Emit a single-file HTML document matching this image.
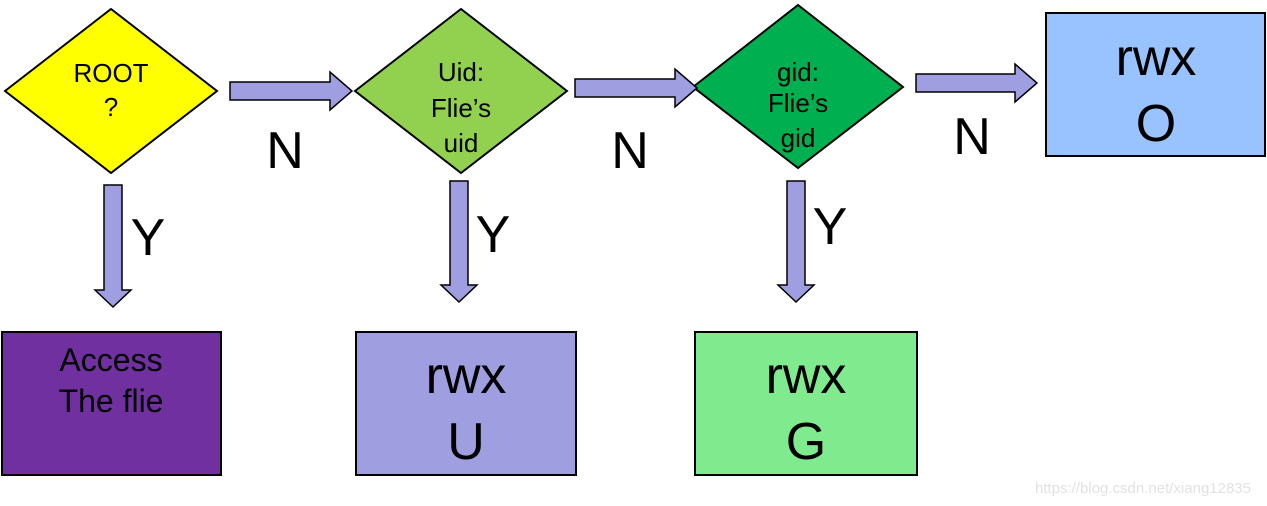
<!DOCTYPE html>
<html><head><meta charset="utf-8"><style>html,body{margin:0;padding:0;background:#fff;}svg{display:block}</style></head>
<body>
<svg width="1267" height="506" viewBox="0 0 1267 506" xmlns="http://www.w3.org/2000/svg" font-family="Liberation Sans, Arial, sans-serif">
<g stroke="#000" stroke-width="2">
<polygon points="5,91 111,9 217,91 111,173" fill="#ffff00"/>
<polygon points="355,91 461,9 567,91 461,173" fill="#92d050"/>
<polygon points="693,87 798,5 903,87 798,168" fill="#00b050"/>
<rect x="1046" y="13" width="219" height="143" fill="#99c3ff"/>
<rect x="2" y="332" width="219" height="143" fill="#7030a0"/>
<rect x="356" y="332" width="220" height="143" fill="#9e9ee0"/>
<rect x="695" y="332" width="222" height="143" fill="#80ea8e"/>
</g>
<g fill="#9e9ee0" stroke="#000" stroke-width="1.5">
<polygon points="230,82 330,82 330,72 352,91 330,110 330,100 230,100"/>
<polygon points="575,79 675,79 675,69 697,88 675,107 675,97 575,97"/>
<polygon points="916,74 1015,74 1015,64 1037,83 1015,102 1015,92 916,92"/>
<polygon points="104,185 122,185 122,290 131,290 113,307 95,290 104,290"/>
<polygon points="450,181 468,181 468,285 477,285 459,302 441,285 450,285"/>
<polygon points="787,181 805,181 805,285 814,285 796,302 778,285 787,285"/>
</g>
<g fill="#000" text-anchor="middle" font-size="26">
<text x="111" y="82">ROOT</text>
<text x="111" y="116">?</text>
<text x="461" y="81">Uid:</text>
<text x="461" y="117">Flie’s</text>
<text x="461" y="152">uid</text>
<text x="798" y="81">gid:</text>
<text x="798" y="112">Flie’s</text>
<text x="798" y="147">gid</text>
</g>
<g fill="#000" text-anchor="middle" font-size="52">
<text x="285" y="168">N</text>
<text x="630" y="168">N</text>
<text x="972" y="154">N</text>
<text x="148" y="255">Y</text>
<text x="493" y="252">Y</text>
<text x="830" y="244">Y</text>
<text x="1156" y="75">rwx</text>
<text x="1156" y="141">O</text>
<text x="466" y="393">rwx</text>
<text x="466" y="459">U</text>
<text x="806" y="393">rwx</text>
<text x="806" y="459">G</text>
</g>
<g fill="#000" text-anchor="middle" font-size="32">
<text x="111" y="371">Access</text>
<text x="111" y="412">The flie</text>
</g>
<text x="1143" y="493" text-anchor="middle" font-size="15" fill="#e2e2e2">https://blog.csdn.net/xiang12835</text>
</svg>
</body></html>
